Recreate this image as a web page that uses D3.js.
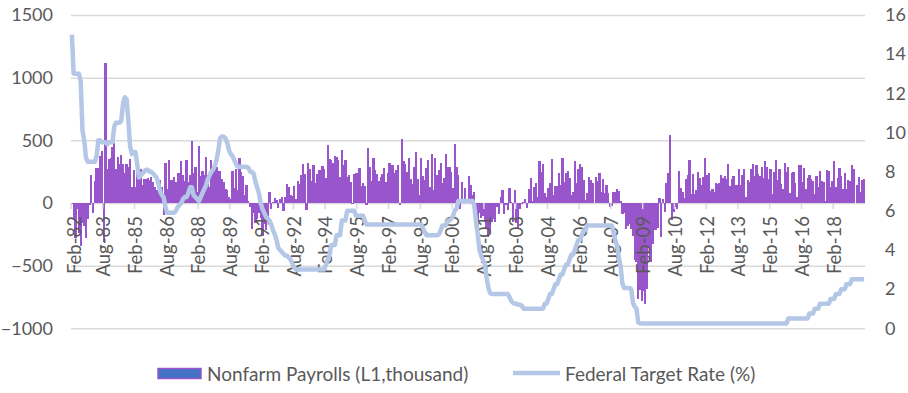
<!DOCTYPE html>
<html>
<head>
<meta charset="utf-8">
<script src="https://d3js.org/d3.v7.min.js"></script>
<style>
  body { margin: 0; background: #fff; }
  svg { display: block; font-family: Lato, "Open Sans", sans-serif; }
</style>
</head>
<body>
<svg width="908" height="393"></svg>
<script>
// monthly, Feb-82 .. Jul-19
var startMonth = new Date(1982, 1, 1),
    endMonth = new Date(2019, 7, 1);

var xTickLabels = ["Feb-82", "Aug-83", "Feb-85", "Aug-86", "Feb-88", "Aug-89", "Feb-91", "Aug-92",
    "Feb-94", "Aug-95", "Feb-97", "Aug-98", "Feb-00", "Aug-01", "Feb-03", "Aug-04", "Feb-06",
    "Aug-07", "Feb-09", "Aug-10", "Feb-12", "Aug-13", "Feb-15", "Aug-16", "Feb-18"];
var leftTicks = [-1000, -500, 0, 500, 1000, 1500];
var rightTicks = [0, 2, 4, 6, 8, 10, 12, 14, 16];

// Nonfarm payrolls, change in thousands
var payrolls = [
    -6, -129, -281, -45, -243, -343, -158, -181, -277, -124, -14,
    225, -78, 173, 276, 277, 378, 418, -308, 1114, 271, 352, 356,
    446, 481, 275, 363, 308, 379, 313, 240, 311, 286, 349, 128,
    266, 124, 346, 196, 274, 146, 190, 193, 203, 187, 209, 167,
    125, 107, 94, 187, 126, -94, 317, 114, 339, 186, 186, 204,
    171, 237, 243, 338, 227, 172, 345, 171, 225, 491, 239, 287,
    90, 456, 216, 259, 220, 363, 227, 124, 341, 267, 342, 285,
    259, 259, 193, 171, 114, 106, 49, 32, 252, 117, 268, 107,
    360, 246, 216, 66, 147, 14, -33, -208, -82, -160, -129, -79,
    -117, -260, -169, -218, -111, 88, -52, 9, 38, 24, -43, 31,
    45, -63, 51, 154, 125, 62, 55, 139, 29, 174, 149, 221,
    312, 228, -53, 320, 271, 172, 301, 159, 234, 267, 267, 296,
    273, 196, 465, 350, 339, 317, 376, 370, 345, 210, 421, 304,
    339, 207, 226, 165, -12, 229, 243, 236, 280, 139, 156, 139,
    -18, 438, 287, 173, 355, 260, 234, 177, 208, 230, 283, 164,
    236, 317, 300, 300, 241, 260, 302, -13, 512, 336, 311, 250,
    360, 192, 148, 284, 409, 195, 66, 362, 219, 184, 281, 343,
    125, 394, 104, 360, 227, 263, 322, 160, 203, 394, 285, 289,
    249, 117, 469, 286, 223, -45, 166, 8, 121, 0, 218, 140,
    60, 90, -60, -220, -80, -120, -100, -150, -200, -270, -240, -150,
    -130, -150, -30, -90, 50, 100, -90, -20, -60, 120, 10, -150,
    100, -160, -210, -50, -10, 10, 30, -40, 110, 200, 15, 125,
    161, 44, 332, 249, 310, 81, 46, 120, 160, 354, 64, 132,
    135, 240, 142, 359, 171, 242, 257, 197, 67, 84, 336, 159,
    274, 312, 288, 180, 23, 81, 208, 183, 156, 3, 205, 172,
    238, 89, 189, 79, 143, 78, -33, -24, 88, 84, 114, 98,
    17, -84, -78, -210, -185, -165, -209, -266, -452, -473, -769, -695,
    -780, -700, -810, -690, -351, -470, -329, -212, -219, -200, 40, -270,
    28, -69, 163, 243, 540, -133, -70, -34, -52, 257, 123, 88,
    42, 188, 225, 346, 73, 235, 70, 107, 246, 202, 146, 207,
    360, 226, 243, 96, 110, 88, 160, 150, 161, 225, 203, 214,
    190, 311, 135, 192, 218, 146, 140, 268, 143, 220, 275, 45,
    187, 168, 272, 310, 213, 306, 232, 218, 286, 200, 331, 286,
    190, 271, 70, 251, 339, 182, 274, 154, 115, 319, 245, 285,
    83, 242, 246, 159, 44, 300, 300, 165, 276, 113, 198, 227,
    195, 176, 72, 217, 130, 258, 178, 170, 18, 267, 256, 130,
    176, 338, 130, 201, 276, 218, 110, 237, 108, 180, 178, 305,
    268, 1, 147, 210, 85, 182, 194
];

// Federal target rate, %
var fedRate = [
    15.0, 13.0, 13.0, 13.0, 13.0, 12.6, 10.1, 9.6, 8.7, 8.5, 8.5,
    8.5, 8.5, 8.5, 8.8, 9.6, 9.6, 9.5, 9.5, 9.5, 9.4, 9.5, 9.5,
    9.5, 10.3, 10.5, 10.5, 10.5, 10.6, 11.5, 11.8, 11.7, 10.6, 9.3, 8.9,
    9.0, 9.0, 8.4, 7.7, 7.8, 7.9, 8.0, 8.1, 8.1, 8.0, 8.0, 7.9,
    7.8, 7.7, 7.4, 7.0, 6.8, 6.7, 6.2, 5.9, 5.9, 5.9, 5.9, 5.9,
    6.0, 6.2, 6.3, 6.4, 6.6, 6.7, 6.7, 6.9, 7.2, 7.2, 6.8, 6.7,
    6.6, 6.5, 6.7, 6.9, 7.1, 7.3, 7.6, 7.8, 8.0, 8.1, 8.3, 8.6,
    9.1, 9.7, 9.8, 9.8, 9.7, 9.5, 9.1, 8.9, 8.8, 8.6, 8.4, 8.25,
    8.25, 8.25, 8.25, 8.25, 8.25, 8.2, 8.0, 8.0, 7.9, 7.5, 7.2, 6.9,
    6.4, 6.1, 5.9, 5.7, 5.6, 5.5, 5.3, 5.0, 4.8, 4.5, 4.1, 4.0,
    3.9, 3.8, 3.7, 3.7, 3.6, 3.5, 3.3, 3.1, 3.0, 3.0, 3.0, 3.0,
    3.0, 3.0, 3.0, 3.0, 3.0, 3.0, 3.0, 3.0, 3.0, 3.0, 3.0, 3.0,
    3.0, 3.25, 3.5, 3.75, 4.25, 4.25, 4.25, 4.75, 4.75, 4.75, 5.5, 5.5,
    5.5, 6.0, 6.0, 6.0, 6.0, 6.0, 5.75, 5.75, 5.75, 5.75, 5.75, 5.5,
    5.3, 5.3, 5.3, 5.3, 5.3, 5.3, 5.3, 5.3, 5.3, 5.3, 5.3, 5.3,
    5.3, 5.3, 5.3, 5.3, 5.3, 5.3, 5.3, 5.3, 5.3, 5.3, 5.3, 5.3,
    5.3, 5.3, 5.3, 5.3, 5.3, 5.3, 5.3, 5.3, 5.1, 4.9, 4.75, 4.75,
    4.75, 4.75, 4.75, 4.75, 4.75, 4.8, 5.0, 5.25, 5.25, 5.25, 5.5, 5.5,
    5.6, 5.75, 6.0, 6.1, 6.5, 6.5, 6.5, 6.5, 6.5, 6.5, 6.5, 6.5,
    6.5, 6.3, 5.5, 4.8, 4.0, 3.7, 3.5, 3.3, 2.6, 2.1, 1.8, 1.75,
    1.75, 1.75, 1.75, 1.75, 1.75, 1.75, 1.75, 1.75, 1.75, 1.6, 1.4, 1.3,
    1.25, 1.25, 1.2, 1.2, 1.15, 1.0, 1.0, 1.0, 1.0, 1.0, 1.0, 1.0,
    1.0, 1.0, 1.0, 1.0, 1.0, 1.25, 1.25, 1.5, 1.75, 1.75, 2.0, 2.25,
    2.25, 2.5, 2.75, 2.75, 3.0, 3.25, 3.25, 3.5, 3.75, 3.75, 4.0, 4.25,
    4.5, 4.5, 4.75, 5.0, 5.0, 5.25, 5.25, 5.25, 5.25, 5.25, 5.25, 5.25,
    5.25, 5.25, 5.25, 5.25, 5.25, 5.25, 5.25, 5.25, 4.9, 4.5, 4.2, 3.6,
    3.15, 2.3, 2.06, 2.06, 2.06, 2.06, 2.0, 1.3, 1.1, 1.0, 0.3, 0.25,
    0.25, 0.25, 0.25, 0.25, 0.25, 0.25, 0.25, 0.25, 0.25, 0.25, 0.25, 0.25,
    0.25, 0.25, 0.25, 0.25, 0.25, 0.25, 0.25, 0.25, 0.25, 0.25, 0.25, 0.25,
    0.25, 0.25, 0.25, 0.25, 0.25, 0.25, 0.25, 0.25, 0.25, 0.25, 0.25, 0.25,
    0.25, 0.25, 0.25, 0.25, 0.25, 0.25, 0.25, 0.25, 0.25, 0.25, 0.25, 0.25,
    0.25, 0.25, 0.25, 0.25, 0.25, 0.25, 0.25, 0.25, 0.25, 0.25, 0.25, 0.25,
    0.25, 0.25, 0.25, 0.25, 0.25, 0.25, 0.25, 0.25, 0.25, 0.25, 0.25, 0.25,
    0.25, 0.25, 0.25, 0.25, 0.25, 0.25, 0.25, 0.25, 0.25, 0.25, 0.25, 0.5,
    0.5, 0.5, 0.5, 0.5, 0.5, 0.5, 0.5, 0.5, 0.5, 0.5, 0.5, 0.75,
    0.75, 0.75, 1.0, 1.0, 1.0, 1.25, 1.25, 1.25, 1.25, 1.25, 1.25, 1.5,
    1.5, 1.5, 1.75, 1.75, 1.75, 2.0, 2.0, 2.0, 2.25, 2.25, 2.25, 2.5,
    2.5, 2.5, 2.5, 2.5, 2.5, 2.5, 2.5
];

var fmt = d3.timeFormat("%b-%y");
var categories = d3.timeMonth.range(startMonth, endMonth).map(fmt);

var data = categories.map(function(c, i) {
    return { cat: c, jobs: payrolls[i], rate: fedRate[i] };
});

var svg = d3.select("svg"),
    plot = { left: 71, right: 865, top: 15, bottom: 328.3 },
    width = plot.right - plot.left;

var textColor = "#595959",
    gridColor = "#d9d9d9",
    barColor = "#9955cc",
    lineColor = "#b4c7e7";

var x = d3.scaleBand().domain(categories).range([plot.left, plot.right]).padding(0),
    yL = d3.scaleLinear().domain([-1000, 1500]).range([plot.bottom, plot.top]),
    yR = d3.scaleLinear().domain([0, 16]).range([plot.bottom, plot.top]);

// Left axis + gridlines
var gL = svg.append("g")
    .attr("transform", "translate(" + plot.left + ",0)")
    .call(d3.axisLeft(yL).tickValues(leftTicks).tickFormat(d3.format("d"))
        .tickSize(-width).tickPadding(18));
gL.select(".domain").remove();
gL.selectAll(".tick line").attr("stroke", gridColor).attr("stroke-width", 1.5);
gL.selectAll(".tick text")
    .attr("fill", textColor)
    .style("font-size", "18px")
    .style("font-family", "Lato, sans-serif");

// Right axis
var gR = svg.append("g")
    .attr("transform", "translate(" + plot.right + ",0)")
    .call(d3.axisRight(yR).tickValues(rightTicks).tickSize(0).tickPadding(20));
gR.select(".domain").remove();
gR.selectAll(".tick text")
    .attr("fill", textColor)
    .style("font-size", "18px")
    .style("font-family", "Lato, sans-serif");

// Bars (overlapped a little + crisp edges so the columns read as a solid fill)
var bw = x.bandwidth();
svg.append("g")
    .attr("shape-rendering", "crispEdges")
    .selectAll("rect")
    .data(data)
    .enter().append("rect")
    .attr("x", function(d) { return x(d.cat) - 0.25; })
    .attr("y", function(d) { return yL(Math.max(0, d.jobs)); })
    .attr("width", bw + 0.5)
    .attr("height", function(d) { return Math.abs(yL(d.jobs) - yL(0)); })
    .attr("fill", barColor);

// X axis (ticks between categories, labels on the category)
var gX = svg.append("g")
    .attr("transform", "translate(0," + yL(0) + ")")
    .call(d3.axisBottom(x).tickValues(xTickLabels).tickSize(6).tickPadding(0));
gX.select(".domain").remove();
gX.selectAll(".tick line")
    .attr("x1", -bw / 2).attr("x2", -bw / 2)
    .attr("stroke", gridColor).attr("stroke-width", 1.5);
gX.selectAll(".tick text")
    .attr("fill", textColor)
    .style("font-size", "18.5px")
    .style("font-family", "Lato, sans-serif")
    .attr("text-anchor", "end")
    .attr("dy", "0.35em")
    .attr("transform", function(d) {
        var cx = x(d) + bw / 2;
        var shift = Math.max(cx, plot.left + 4) - cx;
        return "translate(" + shift + ",13) rotate(-90)";
    })
    .attr("x", 0).attr("y", 0);

// Fed target rate line
var line = d3.line()
    .x(function(d) { return x(d.cat) + bw / 2; })
    .y(function(d) { return yR(d.rate); });

svg.append("path")
    .datum(data)
    .attr("fill", "none")
    .attr("stroke", lineColor)
    .attr("stroke-width", 4.5)
    .attr("stroke-linejoin", "round")
    .attr("d", line);

// Legend
var legend = svg.append("g")
    .style("font-family", "Lato, sans-serif")
    .style("font-size", "19px");

legend.append("rect")
    .attr("x", 158).attr("y", 368.5)
    .attr("width", 43).attr("height", 10)
    .attr("fill", "#4472c4")
    .attr("stroke", barColor)
    .attr("stroke-width", 1.5);

legend.append("text")
    .attr("x", 207).attr("y", 374)
    .attr("dy", "0.35em")
    .attr("fill", textColor)
    .text("Nonfarm Payrolls (L1,thousand)");

legend.append("line")
    .attr("x1", 513).attr("x2", 560)
    .attr("y1", 373).attr("y2", 373)
    .attr("stroke", lineColor)
    .attr("stroke-width", 4.5);

legend.append("text")
    .attr("x", 565).attr("y", 374)
    .attr("dy", "0.35em")
    .attr("fill", textColor)
    .text("Federal Target Rate (%)");
</script>
</body>
</html>
